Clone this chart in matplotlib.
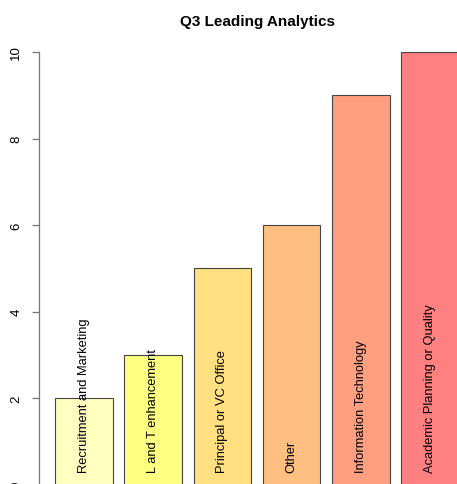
import matplotlib.pyplot as plt
import numpy as np

plt.rcParams['font.family'] = ['Liberation Sans', 'DejaVu Sans']

categories = ["Recruitment and Marketing", "L and T enhancement", "Principal or VC Office",
              "Other", "Information Technology", "Academic Planning or Quality"]
counts = [2, 3, 5, 6, 9, 10]
colors = ["#FFFFBF", "#FFFF80", "#FFDF80", "#FFBF80", "#FF9F80", "#FF8080"]
yticks = [0, 2, 4, 6, 8, 10]

W, H = 457, 485
fig = plt.figure(figsize=(W / 100, H / 100), dpi=100)

# plot region in pixels (R-style barplot, the image is cropped right and bottom)
left_px, right_px, top_px, bottom_px = 39, 475, 35.7, 502.8
ax = fig.add_axes([left_px / W, (H - bottom_px) / H,
                   (right_px - left_px) / W, (bottom_px - top_px) / H])

# R barplot geometry: width 1, space 0.2
x = 0.2 + np.arange(len(counts)) * 1.2 + 0.5
ax.bar(x, counts, width=1.0, color=colors, edgecolor="#444444", linewidth=0.8)

for xi, lab in zip(x, categories):
    ax.text(xi, 0.28, lab, rotation=90, ha="center", va="bottom", fontsize=9.3)

ax.set_xlim(-0.08, 7.48)
ax.set_ylim(-0.4, 10.4)

for side in ["top", "right", "bottom"]:
    ax.spines[side].set_visible(False)
ax.spines["left"].set_bounds(0, 10)
ax.spines["left"].set_color("#777777")
ax.spines["left"].set_linewidth(0.9)
ax.set_xticks([])
ax.set_yticks(yticks)
ax.set_yticklabels([str(t) for t in yticks], rotation=90, va="center", fontsize=9.5)
ax.tick_params(axis="y", length=5, width=0.9, color="#777777", pad=7)

fig.text((left_px + right_px) / 2 / W, 1 - 22 / H, "Q3 Leading Analytics",
         ha="center", va="center", fontsize=11, fontweight="bold")

fig.savefig("out.png", dpi=100)
